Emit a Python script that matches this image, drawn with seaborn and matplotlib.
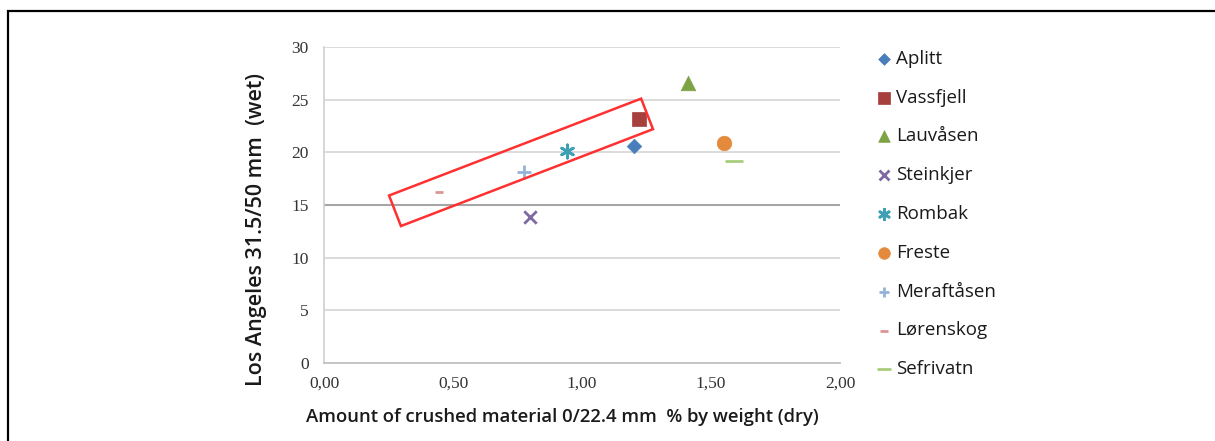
import matplotlib
matplotlib.use("Agg")
import matplotlib.pyplot as plt
from matplotlib.patches import Polygon, Rectangle
from matplotlib.ticker import FuncFormatter
import seaborn as sns

# Quarry samples: crushed fines content vs. Los Angeles value
sites = ["Aplitt", "Vassfjell", "Lauvåsen", "Steinkjer", "Rombak",
         "Freste", "Meraftåsen", "Lørenskog", "Sefrivatn"]
crushed_pct = [1.20, 1.22, 1.41, 0.80, 0.94, 1.55, 0.775, 0.445, 1.59]
la_value = [20.6, 23.2, 26.6, 13.9, 20.1, 20.9, 18.1, 16.2, 19.2]

x_ticks = [0.0, 0.5, 1.0, 1.5, 2.0]
y_ticks = [0, 5, 10, 15, 20, 25, 30]

# Highlight band around the trend (data units)
band_x = [0.252, 0.298, 1.275, 1.229]
band_y = [15.9, 13.0, 22.2, 25.1]

colors = ["#4a7ebb", "#a5403d", "#7ea345", "#7c69a2", "#3ea0b5",
          "#e38a3c", "#95b3d7", "#d99694", "#a9cd7d"]
markers = ["D", "s", "^", "x", (6, 2, 0), "o", "+", "_", "_"]
sizes = [55, 110, 110, 80, 90, 110, 90, 40, 170]

sns.set_style("white")
plt.rcParams["font.family"] = ["Open Sans", "DejaVu Sans"]

fig = plt.figure(figsize=(12.15, 4.41), dpi=100)
ax = fig.add_axes([0.2667, 0.1769, 0.4247, 0.7165])

for name, x, y, c, m, s in zip(sites, crushed_pct, la_value, colors, markers, sizes):
    filled = m in ("D", "s", "^", "o")
    if filled:
        sns.scatterplot(x=[x], y=[y], marker=m, color=c, s=s, ax=ax,
                        label=name, edgecolor=c, linewidth=0.5, zorder=3)
    else:
        sns.scatterplot(x=[x], y=[y], marker=m, color=c, s=s, ax=ax,
                        label=name, linewidth=2.0, zorder=3)

ax.set_xlim(0, 2.0)
ax.set_ylim(0, 30)
ax.set_xticks(x_ticks)
ax.set_yticks(y_ticks)
ax.xaxis.set_major_formatter(FuncFormatter(lambda v, p: f"{v:.2f}".replace(".", ",")))

for yv in y_ticks[1:]:
    ax.axhline(yv, color="#d9d9d9", lw=1.3, zorder=0)
ax.axhline(15, color="#a6a6a6", lw=1.5, zorder=1)

for side in ("top", "right"):
    ax.spines[side].set_visible(False)
ax.spines["left"].set_color("#d0d0d0")
ax.spines["left"].set_linewidth(1.2)
ax.spines["bottom"].set_color("#c0c0c0")
ax.spines["bottom"].set_linewidth(1.3)
ax.tick_params(axis="x", direction="out", length=4, color="#c0c0c0", width=1,
               labelsize=12.5, pad=5)
ax.tick_params(axis="y", direction="out", length=4, color="#d0d0d0", width=1,
               labelsize=12.5, pad=7)
for lbl in ax.get_xticklabels() + ax.get_yticklabels():
    lbl.set_family("Liberation Serif")
    lbl.set_color("#333333")

ax.set_xlabel("Amount of crushed material 0/22.4 mm  % by weight (dry)",
              fontsize=13.3, fontweight="semibold", color="#1a1a1a")
ax.xaxis.set_label_coords(0.5 - 20 / 516, -0.142)
ax.set_ylabel("Los Angeles 31.5/50 mm  (wet)",
              fontsize=15.5, fontweight="semibold", color="#1a1a1a")
ax.yaxis.set_label_coords(-0.11, 0.424)

band = Polygon(list(zip(band_x, band_y)), closed=True, fill=False,
               edgecolor="#ff3030", lw=1.8, zorder=4)
ax.add_patch(band)

leg = ax.legend(loc="upper left", bbox_to_anchor=(1.05, 1.015), frameon=False,
                fontsize=13.5, labelspacing=1.11, handletextpad=0.1,
                handlelength=1.1, borderaxespad=0, markerscale=0.8)
for t in leg.get_texts():
    t.set_fontweight("medium")
    t.set_color("#1a1a1a")

# outer frame of the figure
fig.patches.append(Rectangle((8 / 1215, -0.1), 1.2, 1 - 11 / 441 + 0.1,
                             transform=fig.transFigure, fill=False,
                             edgecolor="black", lw=1.6))

fig.savefig("out.png", dpi=100)
